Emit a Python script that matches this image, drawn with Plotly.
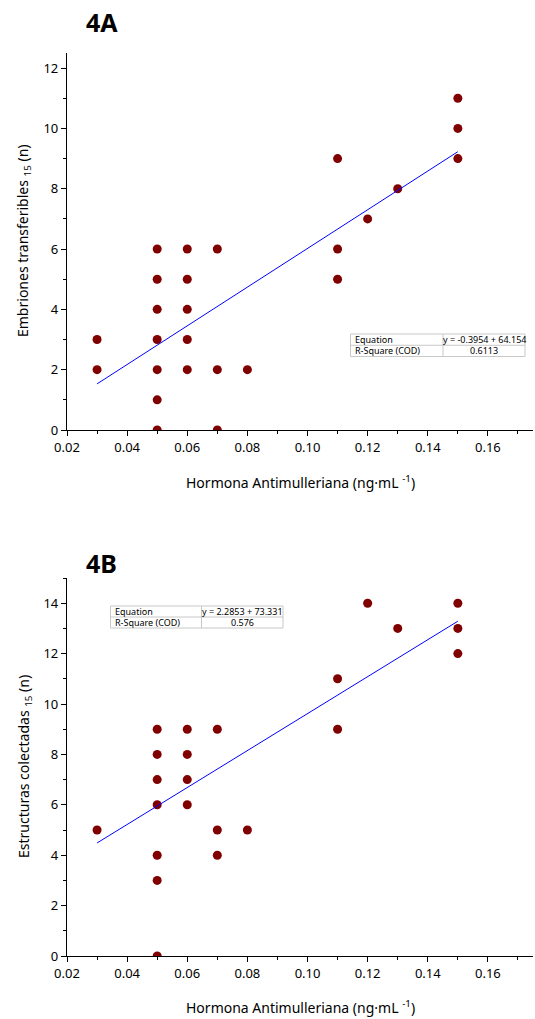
import plotly.graph_objects as go

# ---------------- data ----------------
hma_a = [0.03, 0.03,
         0.05, 0.05, 0.05, 0.05, 0.05, 0.05, 0.05,
         0.06, 0.06, 0.06, 0.06, 0.06,
         0.07, 0.07, 0.07,
         0.08,
         0.11, 0.11, 0.11,
         0.12, 0.13,
         0.15, 0.15, 0.15]
embriones = [3, 2,
             6, 5, 4, 3, 2, 1, 0,
             6, 5, 4, 3, 2,
             6, 2, 0,
             2,
             9, 6, 5,
             7, 8,
             11, 10, 9]

hma_b = [0.03,
         0.05, 0.05, 0.05, 0.05, 0.05, 0.05, 0.05,
         0.06, 0.06, 0.06, 0.06,
         0.07, 0.07, 0.07,
         0.08,
         0.11, 0.11,
         0.12, 0.13,
         0.15, 0.15, 0.15]
estructuras = [5,
               9, 8, 7, 6, 4, 3, 0,
               9, 8, 7, 6,
               9, 5, 4,
               5,
               11, 9,
               14, 13,
               14, 13, 12]

fit_a = {"intercept": -0.3954, "slope": 64.154, "r2": "0.6113", "eq": "y = -0.3954 + 64.154"}
fit_b = {"intercept": 2.2853, "slope": 73.331, "r2": "0.576", "eq": "y = 2.2853 + 73.331"}

x_ticks = [0.02, 0.04, 0.06, 0.08, 0.10, 0.12, 0.14, 0.16]
x_tick_labels = ["0.02", "0.04", "0.06", "0.08", "0.10", "0.12", "0.14", "0.16"]

# ---------------- layout helpers ----------------
W, H = 535, 1019
ML, MR, MT, MB = 67, 2, 53, 63
PW, PH = W - ML - MR, H - MT - MB


def px(x):
    return (x - ML) / PW


def py(y):
    return (H - MB - y) / PH


FONT = "Noto Sans"
MARK = "#800000"

fig = go.Figure()

panels = [
    dict(x=hma_a, y=embriones, fit=fit_a, xa="x", ya="y"),
    dict(x=hma_b, y=estructuras, fit=fit_b, xa="x2", ya="y2"),
]
for p in panels:
    fig.add_trace(go.Scatter(x=p["x"], y=p["y"], mode="markers", xaxis=p["xa"], yaxis=p["ya"],
                             marker=dict(color=MARK, size=9, line=dict(width=0)),
                             showlegend=False, hoverinfo="x+y"))
    xmin, xmax = min(p["x"]), max(p["x"])
    fx = [xmin, xmax]
    fy = [p["fit"]["intercept"] + p["fit"]["slope"] * v for v in fx]
    fig.add_trace(go.Scatter(x=fx, y=fy, mode="lines", xaxis=p["xa"], yaxis=p["ya"],
                             line=dict(color="#0000FF", width=1), showlegend=False))

axis_common = dict(showline=True, linecolor="black", linewidth=1.3, ticks="outside",
                   ticklen=5, tickwidth=1.2, tickcolor="black", showgrid=False, zeroline=False,
                   tickfont=dict(family=FONT, size=13, color="black"), mirror=False)
xaxis_common = dict(axis_common, range=[0.02, 0.175], tickvals=x_ticks, ticktext=x_tick_labels,
                    minor=dict(ticks="outside", ticklen=3, tickwidth=1, tickcolor="black",
                               tickvals=[0.03, 0.05, 0.07, 0.09, 0.11, 0.13, 0.15, 0.17]))

fig.update_layout(
    width=W, height=H, margin=dict(l=ML, r=MR, t=MT, b=MB),
    paper_bgcolor="white", plot_bgcolor="white",
    font=dict(family=FONT, color="black"),
    xaxis=dict(xaxis_common, domain=[0, 1], anchor="y"),
    yaxis=dict(axis_common, domain=[py(430), 1], anchor="x", range=[0, 12.5], dtick=2, tick0=0,
               minor=dict(ticks="outside", ticklen=3, tickwidth=1, tickcolor="black", dtick=1)),
    xaxis2=dict(xaxis_common, domain=[0, 1], anchor="y2"),
    yaxis2=dict(axis_common, domain=[0, py(578)], anchor="x2", range=[0, 15], dtick=2, tick0=0,
                minor=dict(ticks="outside", ticklen=3, tickwidth=1, tickcolor="black", dtick=1)),
)

ann = []
# titles
ann.append(dict(text="<b>4A</b>", x=px(84), y=py(22), xref="paper", yref="paper",
                xanchor="left", yanchor="middle", showarrow=False,
                font=dict(family=FONT, size=25, color="black")))
ann.append(dict(text="<b>4B</b>", x=px(84), y=py(563), xref="paper", yref="paper",
                xanchor="left", yanchor="middle", showarrow=False,
                font=dict(family=FONT, size=25, color="black")))
# axis titles
xt = "Hormona Antimulleriana (ng·mL <sup>-1</sup>)"
for yy in (482, 1007):
    ann.append(dict(text=xt, x=px(300), y=py(yy), xref="paper", yref="paper",
                    xanchor="center", yanchor="middle", showarrow=False,
                    font=dict(family=FONT, size=14, color="black")))
ann.append(dict(text="Embriones transferibles <sub>15</sub> (n)", x=px(24), y=py(241),
                xref="paper", yref="paper", xanchor="center", yanchor="middle",
                textangle=-90, showarrow=False, font=dict(family=FONT, size=14, color="black")))
ann.append(dict(text="Estructuras colectadas <sub>15</sub> (n)", x=px(24), y=py(767),
                xref="paper", yref="paper", xanchor="center", yanchor="middle",
                textangle=-90, showarrow=False, font=dict(family=FONT, size=14, color="black")))

shapes = []


def add_table(x0, x1, xs, y0, y1, fit):
    ym = (y0 + y1) / 2
    gc = "#C8C8C8"
    for (a, b, c, d) in [(x0, y0, x1, y0), (x0, ym, x1, ym), (x0, y1, x1, y1),
                         (x0, y0, x0, y1), (xs, y0, xs, y1), (x1, y0, x1, y1)]:
        shapes.append(dict(type="line", xref="paper", yref="paper",
                           x0=px(a), y0=py(b), x1=px(c), y1=py(d),
                           line=dict(color=gc, width=1)))
    f = dict(family=FONT, size=9, color="black")
    ann.append(dict(text="Equation", x=px(x0 + 2), y=py((y0 + ym) / 2), xref="paper", yref="paper",
                    xanchor="left", yanchor="middle", showarrow=False, font=f))
    ann.append(dict(text="R-Square (COD)", x=px(x0 + 2), y=py((ym + y1) / 2), xref="paper",
                    yref="paper", xanchor="left", yanchor="middle", showarrow=False, font=f))
    ann.append(dict(text=fit["eq"], x=px((xs + x1) / 2), y=py((y0 + ym) / 2), xref="paper",
                    yref="paper", xanchor="center", yanchor="middle", showarrow=False, font=f))
    ann.append(dict(text=fit["r2"], x=px((xs + x1) / 2), y=py((ym + y1) / 2), xref="paper",
                    yref="paper", xanchor="center", yanchor="middle", showarrow=False, font=f))


add_table(350.5, 525, 443, 334, 356.5, fit_a)
add_table(110.5, 283, 201.5, 606, 628, fit_b)

fig.update_layout(annotations=ann, shapes=shapes)
fig.write_html("out.html")
